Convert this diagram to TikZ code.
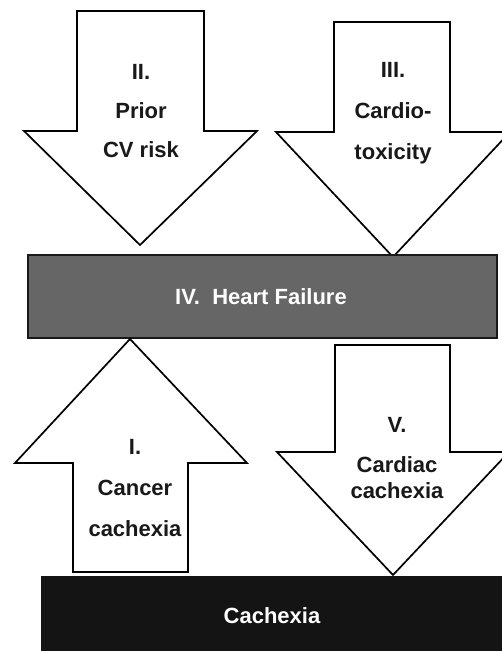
\documentclass[tikz,border=0pt]{standalone}
\usepackage{fontspec}
\setmainfont{Liberation Sans}
\begin{document}
\begin{tikzpicture}[x=1pt,y=-1pt,
  arrowshape/.style={draw=black, line width=1.7pt, fill=white, line join=miter},
  lbl/.style={font=\bfseries\fontsize{22}{26}\selectfont, anchor=base, inner sep=0pt, text=black!90},
  wlbl/.style={lbl, text=white},
  hfbox/.style={draw=black!90, line width=2pt, fill=black!60, minimum width=469pt, minimum height=83pt, inner sep=0pt},
  cxbox/.style={fill=black!92, draw=none, minimum width=470pt, minimum height=90pt, inner sep=0pt}]
\useasboundingbox (0,0) rectangle (502,651);
\clip (0,0) rectangle (502,651);
% Arrow II (down)
\draw[arrowshape] (77,11) -- (204,11) -- (204,131) -- (257,131) -- (140,245) -- (24,131) -- (77,131) -- cycle;
% Arrow III (down)
\draw[arrowshape] (334,22) -- (450,22) -- (450,132) -- (510,132) -- (393,257) -- (276,132) -- (334,132) -- cycle;
% Heart failure box
\node[hfbox, anchor=north west] (hf) at (27,254) {};
\node[wlbl] (hft) at (261,304) {IV.\ \ Heart Failure};
% Arrow I (up)
\draw[arrowshape] (73,572) -- (73,463) -- (15,463) -- (130,339) -- (247,463) -- (188,463) -- (188,572) -- cycle;
% Arrow V (down)
\draw[arrowshape] (335,345) -- (450,345) -- (450,452) -- (509,452) -- (393,575) -- (277,452) -- (335,452) -- cycle;
% Cachexia box
\node[cxbox, anchor=north west] (cx) at (41,575.5) {};
\node[wlbl] (cxt) at (272,623) {Cachexia};
% Labels
\node[lbl] (t2a) at (141,79) {II.};
\node[lbl] (t2b) at (141,118) {Prior};
\node[lbl] (t2c) at (141,157) {CV risk};
\node[lbl] (t3a) at (393,77) {III.};
\node[lbl] (t3b) at (393,118) {Cardio-};
\node[lbl] (t3c) at (393,159) {toxicity};
\node[lbl] (t1a) at (135,454) {I.};
\node[lbl] (t1b) at (135,495) {Cancer};
\node[lbl] (t1c) at (135,536) {cachexia};
\node[lbl] (t5a) at (397,432) {V.};
\node[lbl] (t5b) at (397,472) {Cardiac};
\node[lbl] (t5c) at (397,498) {cachexia};
\end{tikzpicture}
\end{document}
